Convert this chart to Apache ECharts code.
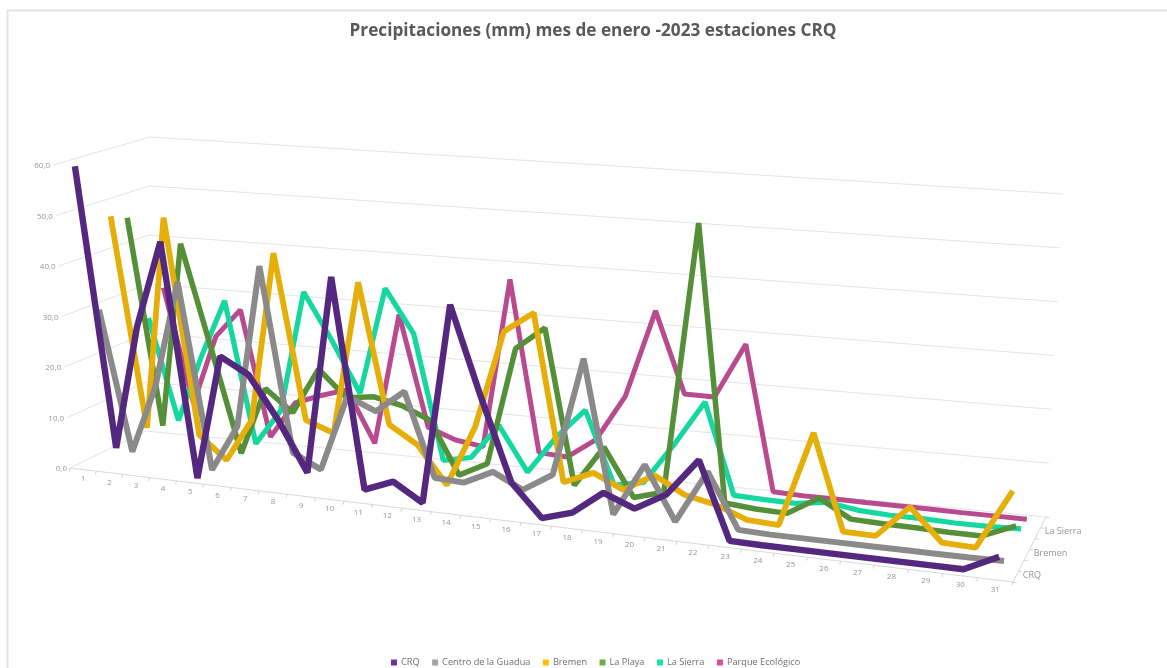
<!DOCTYPE html>
<html><head><meta charset="utf-8">
<style>html,body{margin:0;padding:0;background:#fff}#c{width:1167px;height:668px}</style>
<script src="https://cdn.jsdelivr.net/npm/echarts@6/dist/echarts.min.js"></script>
</head><body><div id="c"></div>
<script>
const days = Array.from({length:31},(_,i)=>String(i+1));
const valueTicks = [0,10,20,30,40,50,60];
const tickLabels = ['0,0','10,0','20,0','30,0','40,0','50,0','60,0'];
const depthLabels = ['CRQ','','Bremen','','La Sierra',''];
const crq    = [59.5,4.3,28.7,46,0.2,24.6,21.6,13.5,3.8,42.2,1.8,4,0.6,39,22,6.4,0.4,2.1,6.5,4.2,7.5,14.6,0.3,0.2,0.2,0.2,0.2,0.2,0.2,0.2,3.2];
const centro = [30,2.3,15.8,37,0.5,9.6,41.6,5.7,3,17.8,15.5,19.9,3.9,3.6,6.3,3.5,7,29.6,0.8,10.8,0.8,10.8,0.6,0.4,0.4,0.4,0.4,0.4,0.4,0.4,0.5];
const bremen = [47.6,5.8,48.2,5.5,1.1,9.6,43,10.7,8.7,38.7,11.5,8.1,1,12.8,31.7,35.8,4,6.4,3.8,7.2,4.1,2.9,0.7,0.4,18.2,0.5,0.4,6.4,0.5,0.3,11.3];
const playa  = [46.3,5,41.9,21.5,1.1,14.5,10.3,19.4,14.3,15,13.8,11.5,1.4,4.2,27,31.5,1.8,9.7,0.7,2.3,53.9,1.5,1,0.8,4.3,1,0.8,0.7,0.5,0.5,3];
const sierra = [25,4.8,18,29.8,1.7,8.8,32.9,23.8,13.8,35,26.5,2.2,3.3,10.1,1.6,8.9,14.7,0.8,1.9,9.7,18.4,1.2,1,0.9,1.7,0.8,0.5,0.5,0.3,0.3,0.5];
const parque = [30,7,21,26.8,1.7,9,11,12.6,2.5,28.5,6.7,4.7,3.9,37.2,3.8,3.5,7.4,16.3,33.3,17.8,17.7,28.3,0.7,0.5,0.5,0.4,0.4,0.4,0.3,0.3,0.3];

const stations = [
  {name:'CRQ',               values:crq,    line:'#55287f', key:'#7030a0', w:6.4},
  {name:'Centro de la Guadua',values:centro,line:'#8a8a8a', key:'#a5a5a5', w:6},
  {name:'Bremen',            values:bremen, line:'#e6ae08', key:'#ffc000', w:5.8},
  {name:'La Playa',          values:playa,  line:'#558f38', key:'#70ad47', w:5.5},
  {name:'La Sierra',         values:sierra, line:'#15d8a0', key:'#13e8aa', w:5.2},
  {name:'Parque Ecológico',  values:parque, line:'#b84a90', key:'#d94f9f', w:5}
];

// Perspective box: [front/back][bottom/top] at the left and right ends of the day axis
const box = {
  A:[70,468], B:[53,165], C:[146,431], D:[150,137],
  G:[1013,582], H:[1031,247], F:[1046,517], E:[1063,194]
};
const lerp=(a,b,t)=>a+(b-a)*t;
const warp=t=>0.86*t/(1-0.14*t);
function project(band,value,depth,skew){
  const f=warp(band/31), h=value/60, out=[];
  for(const k of [0,1]){
    const fl=lerp(lerp(box.A[k],box.C[k],depth),lerp(box.G[k],box.F[k],depth),f);
    const tp=lerp(lerp(box.B[k],box.D[k],depth),lerp(box.H[k],box.E[k],depth),f);
    out.push(lerp(fl,tp,h));
  }
  if(skew) out[0]+=20*depth*(1-f)*(1-0.9*h);
  return out;
}
const gap=['-','-'];
const wall=valueTicks.map(v=>[project(0,v,0),project(0,v,1),project(31,v,1)]).flatMap(p=>[...p,gap]);
const axisLines=[project(0,0,0),project(31,0,0),project(31,0,1)];
const tickMarks=[];
for(let i=0;i<=31;i++){const p=project(i,0,0);tickMarks.push(p,[p[0]-1,p[1]+3.5],gap);}
for(let k=0;k<=6;k++){const p=project(31,0,k/6);tickMarks.push(p,[p[0]+3.5,p[1]+0.5],gap);}

const textBase={symbolSize:0,silent:true,type:'scatter',z:5};
const lab=(data,pos,extra)=>Object.assign({},textBase,{data,label:Object.assign({show:true,position:pos,formatter:p=>p.name,color:'#7b7b7b',fontFamily:'Open Sans',fontSize:8,distance:0},extra||{})});

const dayText=days.map((d,i)=>{const p=project(i+0.5,0,0);return{name:d,value:[p[0],p[1]+9.5]};});
const valText=valueTicks.map((v,i)=>{const p=project(0,v,0);return{name:tickLabels[i],value:[p[0]-3,p[1]+1]};});
const depthText=depthLabels.map((n,k)=>{const p=project(31,0,(k+0.5)/6);return{name:n,value:[p[0]+7,p[1]-1.5]};}).filter(o=>o.name);

const helpers=[
 {type:'line',data:wall,symbol:'none',silent:true,connectNulls:false,lineStyle:{color:'#e4e4e4',width:1},z:1},
 {type:'line',data:axisLines,symbol:'none',silent:true,lineStyle:{color:'#d9d9d9',width:1},z:1},
 {type:'line',data:tickMarks,symbol:'none',silent:true,connectNulls:false,lineStyle:{color:'#d4d4d4',width:1},z:1},
 lab(dayText,'inside'),
 lab(valText,'left'),
 lab(depthText,'right',{fontSize:9})
];
const lines=stations.map((s,k)=>({
  name:s.name,type:'line',symbol:'none',showSymbol:false,smooth:false,z:10+(5-k),
  itemStyle:{color:s.key},
  lineStyle:{color:s.line,width:s.w,join:'bevel',cap:'butt'},
  data:s.values.map((v,i)=>project(i+0.5,v,(k+0.5)/6,true))
})).reverse();

const chart=echarts.init(document.getElementById('c'),null,{renderer:'canvas'});
chart.setOption({
  animation:false,backgroundColor:'#fff',
  title:{text:'Precipitaciones (mm) mes de enero -2023 estaciones CRQ',left:588,top:18,textAlign:'center',
    textStyle:{fontFamily:'Open Sans',fontSize:17.2,fontWeight:'bold',color:'#595959'}},
  legend:{left:386,top:653,itemWidth:6,itemHeight:6,itemGap:12.5,icon:'rect',
    textStyle:{fontFamily:'Open Sans',fontSize:9.2,color:'#6f6f6f',padding:[0,0,0,-1]},
    data:stations.map(s=>({name:s.name,itemStyle:{color:s.key}}))},
  grid:{left:0,right:0,top:0,bottom:0},
  xAxis:{type:'value',min:0,max:1167,show:false},
  yAxis:{type:'value',min:0,max:668,inverse:true,show:false},
  graphic:[{type:'polyline',silent:true,shape:{points:[[7.5,668],[7.5,10.5],[1167,10.5]]},style:{stroke:'#e4e4e4',lineWidth:2,fill:null}}],
  series:[...helpers,...lines]
});
</script></body></html>
